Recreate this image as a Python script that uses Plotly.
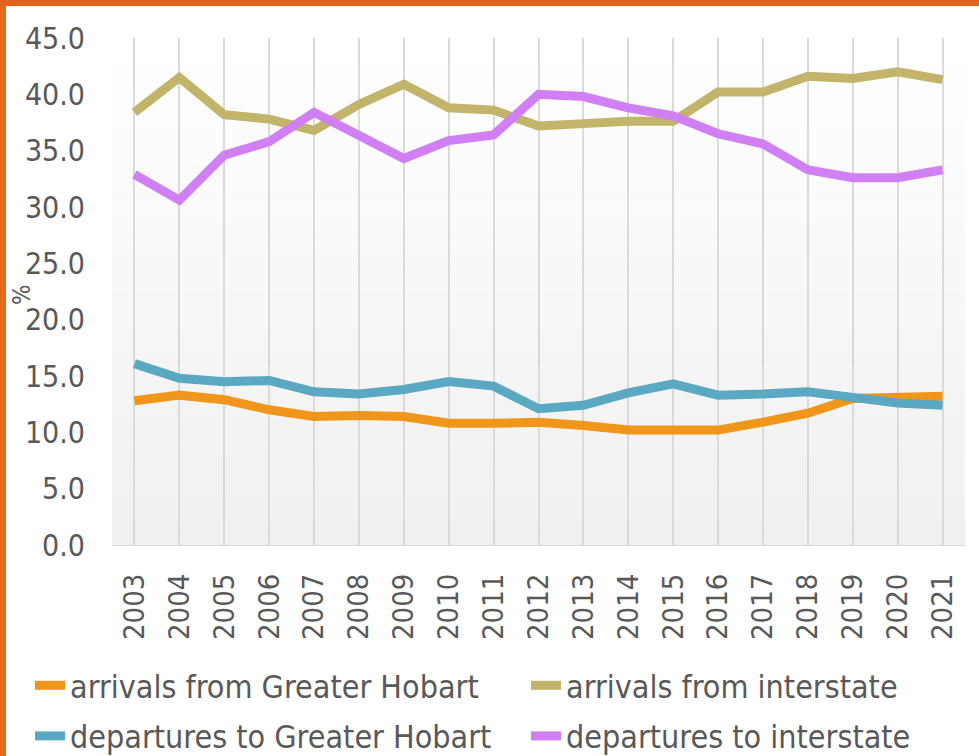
import plotly.graph_objects as go

years = list(range(2003, 2022))

arrivals_hobart = [12.8, 13.3, 12.9, 12.0, 11.4, 11.5, 11.4, 10.8, 10.8, 10.9,
                   10.6, 10.2, 10.2, 10.2, 10.9, 11.7, 13.0, 13.1, 13.2]
arrivals_interstate = [38.4, 41.5, 38.2, 37.8, 36.8, 39.1, 40.9, 38.8, 38.6, 37.2,
                       37.4, 37.6, 37.6, 40.2, 40.2, 41.6, 41.4, 42.0, 41.3]
departures_hobart = [16.1, 14.8, 14.5, 14.6, 13.6, 13.4, 13.8, 14.5, 14.1, 12.1,
                     12.4, 13.5, 14.3, 13.3, 13.4, 13.6, 13.1, 12.6, 12.4]
departures_interstate = [32.9, 30.6, 34.6, 35.8, 38.4, 36.3, 34.3, 35.9, 36.4, 40.0,
                         39.8, 38.8, 38.1, 36.5, 35.6, 33.3, 32.6, 32.6, 33.3]

y_ticks = [0, 5, 10, 15, 20, 25, 30, 35, 40, 45]

# name, values, colour, which legend column
series = [
    ("arrivals from Greater Hobart", arrivals_hobart, "#f0961a", "legend"),
    ("arrivals from interstate", arrivals_interstate, "#c2b46a", "legend2"),
    ("departures to Greater Hobart", departures_hobart, "#5ba8c3", "legend"),
    ("departures to interstate", departures_interstate, "#d17ff5", "legend2"),
]

fig = go.Figure()
for name, vals, col, leg in series:
    fig.add_trace(go.Scatter(x=years, y=vals, name=name, mode="lines", legend=leg,
                             legendgroup=name, line=dict(color=col, width=9)))

W, H = 979, 756
L, R, T, B = 112, 14, 38, 211
pw, ph = W - L - R, H - T - B

# soft vertical gradient behind the plot area
shapes = []
n = 40
for i in range(n):
    t = i / (n - 1)
    g = int(round(255 - 15 * t))
    shapes.append(dict(type="rect", xref="paper", yref="paper", layer="below",
                       x0=0, x1=1, y0=1 - (i + 1) / n, y1=1 - i / n,
                       fillcolor=f"rgb({g},{g},{g})", line=dict(width=0)))

# orange frame on the left and top edges
shapes.append(dict(type="rect", xref="paper", yref="paper",
                   x0=-L / pw, x1=(6 - L) / pw, y0=-B / ph, y1=1 + T / ph,
                   fillcolor="#e36a1d", line=dict(width=0)))
shapes.append(dict(type="rect", xref="paper", yref="paper",
                   x0=-L / pw, x1=1 + R / pw, y0=1 + (T - 6) / ph, y1=1 + T / ph,
                   fillcolor="#e0621c", line=dict(width=0)))

leg_font = dict(size=32, family="DejaVu Sans Condensed", color="#595959")
leg_y = -(658 - (T + ph)) / ph

fig.update_layout(
    width=W, height=H,
    margin=dict(l=L, r=R, t=T, b=B, autoexpand=False),
    paper_bgcolor="white", plot_bgcolor="rgba(0,0,0,0)",
    font=dict(family="DejaVu Sans Condensed", color="#595959"),
    shapes=shapes,
    showlegend=True,
    legend=dict(orientation="v", x=(30 - L) / pw, xanchor="left", y=leg_y, yanchor="top",
                font=leg_font, bgcolor="rgba(0,0,0,0)", tracegroupgap=6),
    legend2=dict(orientation="v", x=(526 - L) / pw, xanchor="left", y=leg_y, yanchor="top",
                 font=leg_font, bgcolor="rgba(0,0,0,0)", tracegroupgap=6),
    annotations=[dict(text="%", xref="paper", yref="paper", x=(22 - L) / pw, y=(545 - 295) / ph,
                      xanchor="center", yanchor="middle",
                      showarrow=False, textangle=-90, font=dict(size=24, color="#595959"))],
)

fig.update_xaxes(range=[2002.5, 2021.5], tickvals=years, ticktext=[str(y) for y in years],
                 tickangle=-90, tickfont=dict(size=29), ticklabelstandoff=16,
                 showgrid=True, gridcolor="#dadada", gridwidth=2,
                 showline=True, linecolor="#d9d9d9", linewidth=1,
                 zeroline=False, ticks="", automargin=False)
fig.update_yaxes(range=[0, 45], tickvals=y_ticks, tickformat=".1f", tickfont=dict(size=30),
                 ticklabelstandoff=26, showgrid=False, zeroline=False, ticks="", automargin=False)

fig.write_html("out.html", config={"displayModeBar": False},
               post_script="document.body.style.margin='0px';")
